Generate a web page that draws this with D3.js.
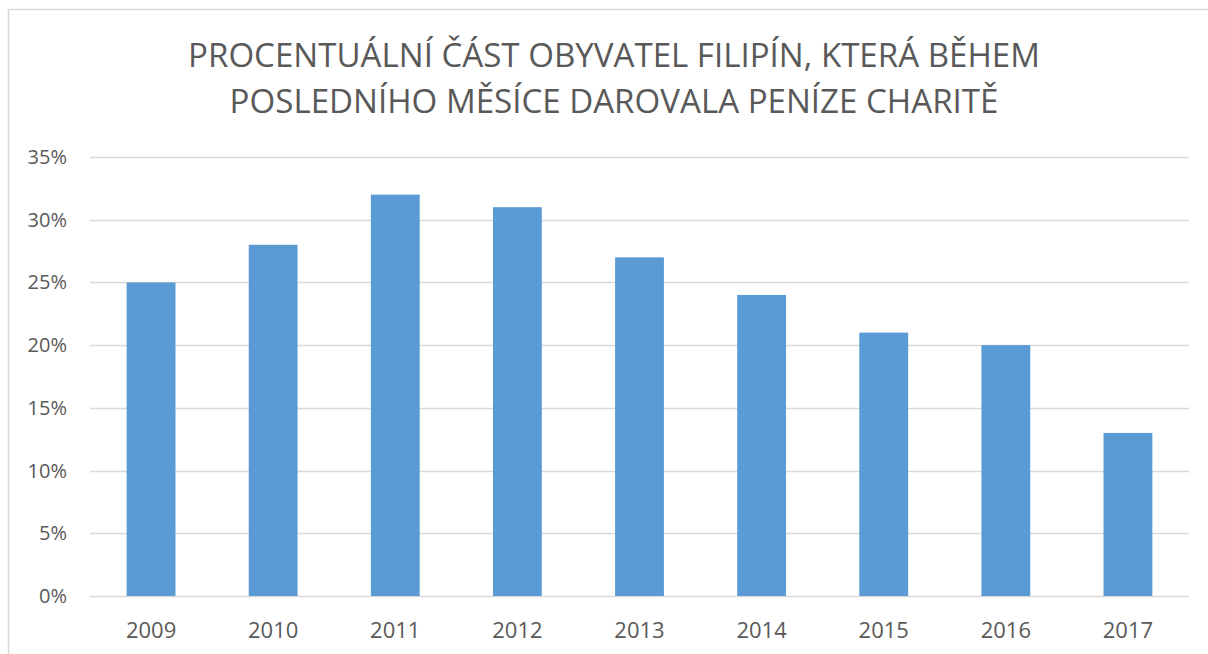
<!DOCTYPE html>
<html>
<head>
<meta charset="utf-8">
<script src="https://cdn.jsdelivr.net/npm/d3@7"></script>
<style>
  body { margin: 0; background: #fff; }
  text { font-family: "Open Sans", sans-serif; }
</style>
</head>
<body>
<svg width="1208" height="654"></svg>
<script>
// data
const years = ["2009", "2010", "2011", "2012", "2013", "2014", "2015", "2016", "2017"];
const shares = [25, 28, 32, 31, 27, 24, 21, 20, 13];
const yTicks = [0, 5, 10, 15, 20, 25, 30, 35];
const titleLines = ["PROCENTUÁLNÍ ČÁST OBYVATEL FILIPÍN, KTERÁ BĚHEM",
                    "POSLEDNÍHO MĚSÍCE DAROVALA PENÍZE CHARITĚ"];

const svg = d3.select("svg"),
  width = +svg.attr("width"),
  height = +svg.attr("height");

const margin = {left: 90, right: 19, top: 157, bottom: 58};

// chart frame (left + top edges visible)
svg.append("path")
  .attr("d", "M8.5,654 V9.5 H1208")
  .attr("fill", "none")
  .attr("stroke", "#d9d9d9")
  .attr("stroke-width", 1.5);

const x = d3.scaleBand()
  .domain(years)
  .range([margin.left, width - margin.right])
  .paddingInner(0.6)
  .paddingOuter(0.3);

const y = d3.scaleLinear()
  .domain([0, 35])
  .range([height - margin.bottom, margin.top]);

// gridlines
svg.append("g")
  .selectAll("line")
  .data(yTicks)
  .enter().append("line")
  .attr("x1", margin.left)
  .attr("x2", width - margin.right)
  .attr("y1", d => Math.round(y(d)) + 0.5)
  .attr("y2", d => Math.round(y(d)) + 0.5)
  .attr("stroke", "#d9d9d9")
  .attr("stroke-width", 1.5);

// bars
svg.append("g")
  .selectAll("rect")
  .data(shares)
  .enter().append("rect")
  .attr("x", (d, i) => x(years[i]))
  .attr("width", x.bandwidth())
  .attr("y", d => y(d))
  .attr("height", d => y(0) - y(d))
  .attr("fill", "#5b9bd5");

// y labels
svg.append("g")
  .selectAll("text")
  .data(yTicks)
  .enter().append("text")
  .attr("x", 67)
  .attr("y", d => y(d) + 7)
  .attr("text-anchor", "end")
  .attr("fill", "#595959")
  .style("font-size", "20px")
  .text(d => d + "%");

// x labels
svg.append("g")
  .selectAll("text")
  .data(years)
  .enter().append("text")
  .attr("x", d => x(d) + x.bandwidth() / 2)
  .attr("y", 638)
  .attr("text-anchor", "middle")
  .attr("fill", "#595959")
  .style("font-size", "22px")
  .text(d => d);

// title
const title = svg.append("g")
  .selectAll("text")
  .data(titleLines)
  .enter().append("text")
  .attr("x", 614)
  .attr("y", (d, i) => 67 + i * 46)
  .attr("text-anchor", "middle")
  .attr("fill", "#595959")
  .style("font-size", "31px")
  .text(d => d);

// squeeze title so first line spans about 852px like the original
const w0 = title.nodes()[0].getComputedTextLength();
const fs = 31 * 852 / w0;
title.style("font-size", fs + "px");
</script>
</body>
</html>
